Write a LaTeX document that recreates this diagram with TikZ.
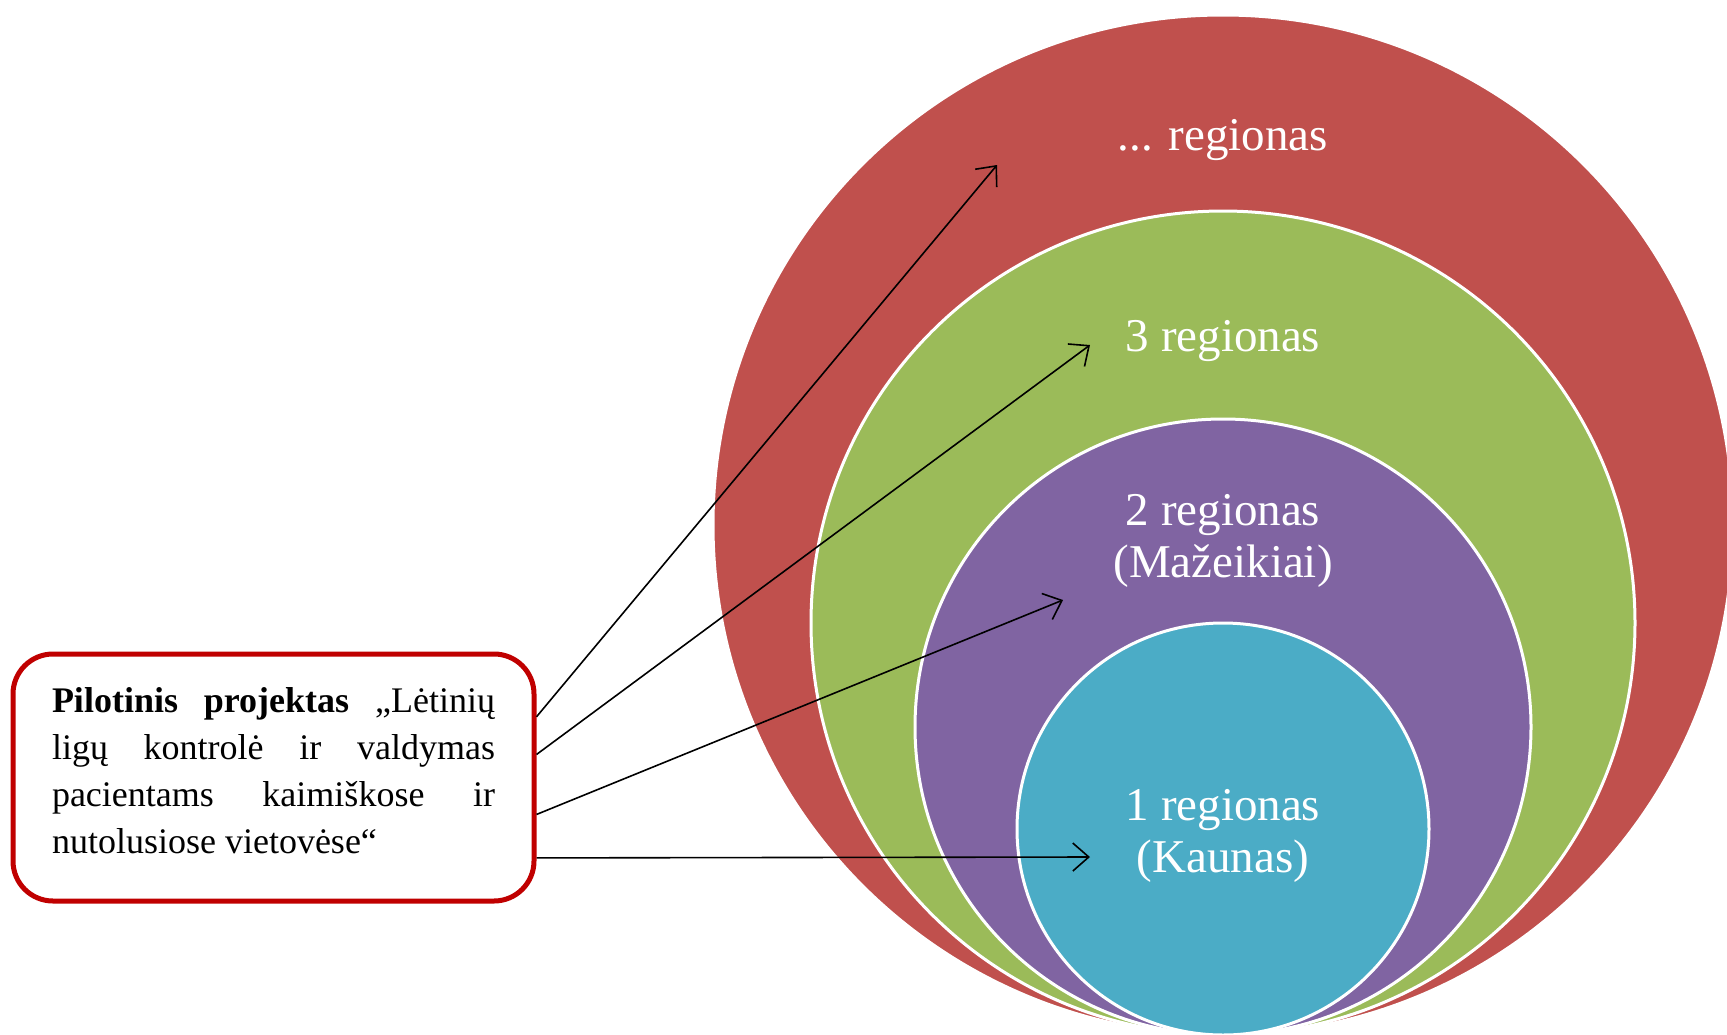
\documentclass[tikz,border=0pt]{standalone}
\usepackage{fontspec}
\setmainfont{Liberation Serif}
\usepackage{tikz}
\usetikzlibrary{arrows.meta}
\usetikzlibrary{positioning}
\definecolor{regred}{HTML}{C0504D}
\definecolor{reggreen}{HTML}{9BBB59}
\definecolor{regviolet}{HTML}{8064A2}
\definecolor{regblue}{HTML}{4BACC6}
\definecolor{boxred}{HTML}{C00000}
\tikzstyle{region} = [circle, draw=white, line width=3pt, inner sep=0pt]
\tikzstyle{lbl} = [text=white, font=\fontsize{47}{52}\selectfont, align=center]
\tikzstyle{pilot} = [draw=boxred, line width=5pt, rounded corners=40pt, fill=white, text width=443pt, minimum width=521pt, minimum height=247pt, inner xsep=39pt, align=justify, font=\fontsize{36}{47}\selectfont]
\tikzstyle{arrow} = [->, line width=1.6pt]

\begin{document}
\begin{tikzpicture}[x=1pt, y=-1pt, >={Straight Barb[length=16pt,width=28pt]}]

  \useasboundingbox (0,0) rectangle (1727,1034);

  % regions, largest first
  \node[region, fill=regred, minimum size=1020pt] (r4) at (1223,525) {};
  \node[region, fill=reggreen, minimum size=824pt] (r3) at (1223,623) {};
  \node[region, fill=regviolet, minimum size=616pt] (r2) at (1223,727) {};
  \node[region, fill=regblue, minimum size=412pt] (r1) at (1223,829) {};

  % labels
  \node[lbl] (l4) at (1223,140) {... regionas};
  \node[lbl] (l3) at (1223,341) {3 regionas};
  \node[lbl] (l2) at (1223,541) {2 regionas\\(Mažeikiai)};
  \node[lbl] (l1) at (1223,836) {1 regionas\\(Kaunas)};

  % project box
  \node[pilot] (box) at (273.5,777.5) {\textbf{Pilotinis projektas} „Lėtinių\linebreak
    ligų kontrolė ir valdymas\linebreak
    pacientams kaimiškose ir\linebreak
    nutolusiose vietovėse“\rule[-14pt]{0pt}{0pt}};

  % arrow tips
  \coordinate (t4) at (997,165);
  \coordinate (t3) at (1090,345);
  \coordinate (t2) at (1063,600);
  \coordinate (t1) at (1090,857);

  \draw[arrow] (box.13.3) -- (t4);
  \draw[arrow] (box.5.6) -- (t3);
  \draw[arrow] (box.-8.6) -- (t2);
  \draw[arrow] (box.-17) -- (t1);

\end{tikzpicture}
\end{document}
